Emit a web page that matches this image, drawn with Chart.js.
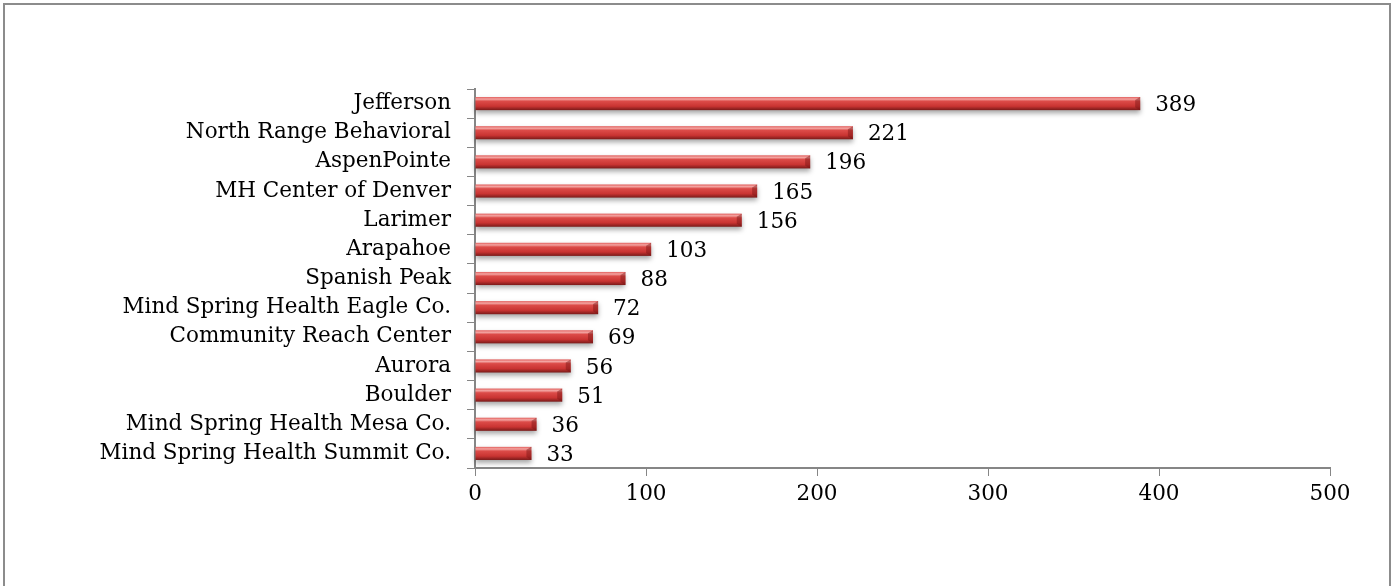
<!DOCTYPE html>
<html>
<head>
<meta charset="utf-8">
<script src="https://cdn.jsdelivr.net/npm/chart.js@4.4.1/dist/chart.umd.min.js"></script>
<style>
  body { margin: 0; background: #fff; }
  #frame { position: absolute; left: 3px; top: 3px; width: 1384px; height: 620px; border: 2px solid #8c8c8c; }
  #wrap { position: absolute; left: 0; top: 0; width: 1394px; height: 586px; }
</style>
</head>
<body>
<div id="frame"></div>
<div id="wrap"><canvas id="barChart"></canvas></div>
<script>
// Data for chart
const centers = ['Jefferson', 'North Range Behavioral', 'AspenPointe', 'MH Center of Denver', 'Larimer',
  'Arapahoe', 'Spanish Peak', 'Mind Spring Health Eagle Co.', 'Community Reach Center', 'Aurora',
  'Boulder', 'Mind Spring Health Mesa Co.', 'Mind Spring Health Summit Co.'];
const counts = [389, 221, 196, 165, 156, 103, 88, 72, 69, 56, 51, 36, 33];
const xTicks = [0, 100, 200, 300, 400, 500];

const serif = 'DejaVu Serif';
const fontSize = 21.5;

// glossy red look on each bar plus the value label
const barStyle = {
  id: 'barStyle',
  afterDatasetsDraw(chart) {
    const ctx = chart.ctx;
    const meta = chart.getDatasetMeta(0);
    meta.data.forEach((bar, i) => {
      const left = bar.base, right = bar.x;
      const top = bar.y - bar.height / 2, h = bar.height;
      ctx.save();
      ctx.shadowColor = 'rgba(0,0,0,0.35)';
      ctx.shadowBlur = 5;
      ctx.shadowOffsetY = 3;
      const g = ctx.createLinearGradient(0, top, 0, top + h);
      g.addColorStop(0, '#e25d5b');
      g.addColorStop(0.16, '#f3a5a2');
      g.addColorStop(0.32, '#dc4b48');
      g.addColorStop(0.7, '#c93432');
      g.addColorStop(1, '#7a1a19');
      ctx.fillStyle = g;
      ctx.fillRect(left, top, right - left, h);
      ctx.restore();
      // bevel at bar end
      ctx.save();
      ctx.fillStyle = 'rgba(120,20,20,0.45)';
      ctx.beginPath();
      ctx.moveTo(right - 5, top + 3);
      ctx.lineTo(right, top);
      ctx.lineTo(right, top + h);
      ctx.lineTo(right - 5, top + h - 3);
      ctx.closePath();
      ctx.fill();
      ctx.restore();
      // value label
      ctx.save();
      ctx.font = fontSize + 'px "' + serif + '"';
      ctx.fillStyle = '#000';
      ctx.textBaseline = 'middle';
      ctx.fillText(counts[i], right + 15, bar.y + 2);
      ctx.restore();
    });
  }
};

new Chart(document.getElementById('barChart'), {
  type: 'bar',
  data: {
    labels: centers,
    datasets: [
      {
        label: 'Count',
        data: counts,
        backgroundColor: 'rgba(0,0,0,0)',
        barPercentage: 0.45,
        categoryPercentage: 1,
      },
    ],
  },
  options: {
    indexAxis: 'y',
    responsive: true,
    maintainAspectRatio: false,
    animation: false,
    layout: { padding: { left: 0, top: 89, right: 64, bottom: 0 } },
    plugins: {
      legend: { display: false },
      tooltip: { enabled: false },
    },
    scales: {
      x: {
        min: 0,
        max: 500,
        afterBuildTicks: (scale) => { scale.ticks = xTicks.map(v => ({ value: v })); },
        afterFit: (scale) => { scale.height = 118; },
        grid: { drawOnChartArea: false, tickLength: 8, color: '#868686' },
        border: { color: '#868686', width: 2 },
        ticks: { color: '#000', font: { family: serif, size: fontSize }, padding: 6 },
      },
      y: {
        afterFit: (scale) => { scale.width = 475; },
        grid: { drawOnChartArea: false, tickLength: 8, color: '#868686', offset: true },
        border: { color: '#868686', width: 2 },
        ticks: { color: '#000', font: { family: serif, size: fontSize }, padding: 16, autoSkip: false },
      },
    },
  },
  plugins: [barStyle],
});
</script>
</body>
</html>
